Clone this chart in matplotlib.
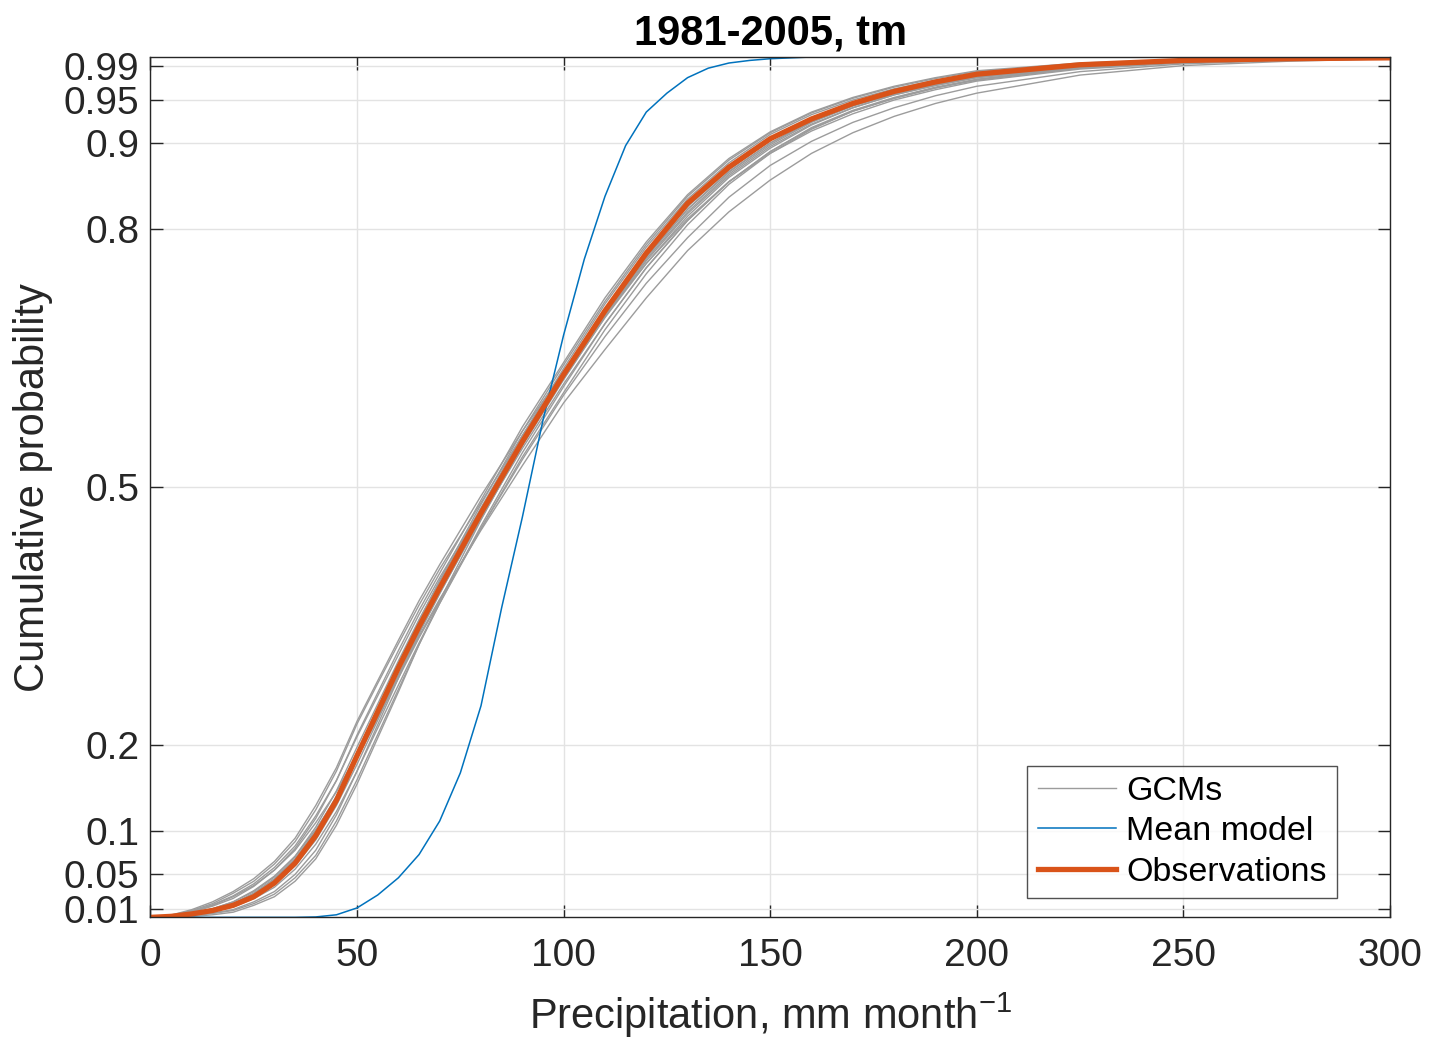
import numpy as np
import matplotlib
matplotlib.use('Agg')
import matplotlib.pyplot as plt

plt.rcParams['font.family'] = ['Liberation Sans', 'DejaVu Sans']
plt.rcParams['mathtext.default'] = 'regular'

# precipitation grid (mm/month) for GCMs and observations
precip = [0, 5, 10, 15, 20, 25, 30, 35, 40, 45, 50, 55, 60, 65, 70, 80, 90, 100,
          110, 120, 130, 140, 150, 160, 170, 180, 190, 200, 225, 250, 275, 300]

obs_cdf = [0.0, .0012, .004, .008, .014, .024, .040, .063, .095, .136, .188, .239, .290,
           .338, .383, .470, .553, .631, .705, .772, .830, .872, .905, .928, .946, .960,
           .971, .980, .991, .996, .998, .999]

gcm_cdfs = [
    [0, .002, .008, .016, .028, .042, .062, .088, .125, .170, .225, .272, .318, .363, .405, .482, .560, .632, .703, .770, .826, .869, .903, .928, .946, .960, .970, .978, .990, .995, .998, .999],
    [0, .002, .007, .014, .024, .037, .055, .080, .115, .159, .212, .261, .310, .357, .400, .485, .570, .645, .720, .785, .840, .882, .913, .936, .953, .966, .976, .984, .993, .997, .999, 1.0],
    [0, .0015, .005, .010, .018, .030, .047, .071, .105, .147, .198, .248, .298, .346, .390, .476, .560, .638, .713, .779, .835, .877, .910, .933, .950, .963, .973, .981, .992, .996, .998, .999],
    [0, .001, .004, .009, .015, .026, .042, .066, .098, .139, .190, .240, .290, .338, .382, .465, .545, .620, .690, .755, .810, .855, .890, .918, .938, .953, .965, .974, .987, .994, .997, .999],
    [0, .0006, .002, .005, .009, .018, .030, .050, .078, .119, .170, .224, .278, .331, .380, .470, .555, .630, .703, .768, .823, .866, .900, .925, .944, .958, .969, .977, .989, .995, .998, .999],
    [0, .0006, .002, .0045, .008, .016, .027, .046, .072, .112, .160, .2125, .265, .317, .365, .455, .540, .617, .690, .755, .810, .855, .890, .917, .937, .952, .964, .973, .987, .994, .997, .999],
    [0, .0018, .006, .013, .022, .036, .055, .078, .110, .146, .190, .235, .280, .327, .370, .450, .525, .598, .660, .720, .775, .820, .857, .888, .912, .931, .946, .958, .979, .990, .995, .998],
    [0, .0015, .005, .010, .018, .031, .048, .071, .102, .139, .185, .2315, .278, .325, .368, .452, .532, .607, .675, .737, .790, .837, .874, .902, .924, .941, .955, .966, .983, .992, .996, .998],
    [0, .0012, .004, .009, .016, .028, .045, .068, .100, .138, .185, .2335, .282, .331, .377, .463, .548, .625, .698, .763, .818, .862, .896, .922, .941, .956, .967, .976, .988, .995, .998, .999],
    [0, .0027, .009, .018, .030, .045, .065, .092, .130, .174, .228, .275, .322, .368, .410, .490, .565, .635, .700, .760, .812, .855, .888, .914, .934, .950, .962, .972, .986, .993, .997, .999],
    [0, .0003, .001, .003, .006, .014, .024, .042, .068, .107, .155, .2085, .262, .317, .368, .462, .550, .628, .700, .765, .820, .864, .898, .924, .943, .957, .968, .977, .989, .995, .998, .999],
    [0, .0009, .003, .007, .013, .0235, .038, .060, .090, .130, .178, .229, .280, .330, .376, .466, .550, .628, .700, .767, .823, .867, .900, .926, .945, .959, .970, .978, .990, .995, .998, .999],
    [0, .0009, .003, .0068, .012, .0217, .035, .056, .085, .123, .170, .220, .270, .319, .365, .452, .535, .610, .683, .748, .805, .852, .888, .916, .937, .952, .964, .974, .988, .994, .997, .999],
    [0, .002, .007, .0146, .025, .039, .058, .083, .118, .159, .210, .2575, .305, .352, .395, .475, .553, .626, .697, .760, .815, .860, .894, .921, .941, .956, .967, .976, .988, .994, .997, .999],
    [0, .0012, .004, .009, .016, .028, .044, .068, .100, .141, .192, .2435, .295, .345, .392, .480, .565, .642, .716, .782, .838, .880, .912, .935, .952, .965, .975, .983, .992, .996, .998, .999],
]

# mean model on its own grid
mean_precip = [0, 5, 10, 15, 20, 25, 30, 35, 40, 45, 50, 55, 60, 65, 70, 75, 80, 85, 90,
               95, 100, 105, 110, 115, 120, 125, 130, 135, 140, 145, 150, 155, 160,
               170, 200, 250, 300]
mean_cdf = [0, 0, 0, 0, 0, 0, 0, 0, 0.0005, 0.003, 0.011, 0.026, 0.046, 0.073, 0.112,
            0.168, 0.246, 0.36, 0.465, 0.578, 0.677, 0.765, 0.838, 0.897, 0.936, 0.958,
            0.976, 0.987, 0.993, 0.996, 0.998, 0.999, 1.0, 1.0, 1.0, 1.0, 1.0]

yticks = [0.01, 0.05, 0.1, 0.2, 0.5, 0.8, 0.9, 0.95, 0.99]
yticklabels = ['0.01', '0.05', '0.1', '0.2', '0.5', '0.8', '0.9', '0.95', '0.99']
xticks = [0, 50, 100, 150, 200, 250, 300]

fig = plt.figure(figsize=(14.29, 10.42), dpi=100)
ax = fig.add_axes([0.1053, 0.1196, 0.8674, 0.8257])

for i, g in enumerate(gcm_cdfs):
    ax.plot(precip, g, color='#9c9c9c', lw=1.0, label='GCMs' if i == 0 else None)
ax.plot(mean_precip, mean_cdf, color='#0072BD', lw=1.1, label='Mean model')
ax.plot(precip, obs_cdf, color='#D95319', lw=3.8, label='Observations')

ax.set_xlim(0, 300)
ax.set_ylim(0, 1)
ax.set_xticks(xticks)
ax.set_yticks(yticks)
ax.set_yticklabels(yticklabels)
ax.tick_params(direction='in', length=9, width=1, top=True, right=True,
               labelsize=28, colors='#262626')
ax.tick_params(axis='x', pad=15)
ax.tick_params(axis='y', pad=8)
ax.grid(True, color='#e3e3e3', lw=1)
ax.set_axisbelow(True)
for s in ax.spines.values():
    s.set_color('#262626')
    s.set_linewidth(1.0)

ax.set_title('1981-2005, tm', fontsize=30, fontweight='bold', pad=9)
ax.set_xlabel('Precipitation, mm month$^{-1}$', fontsize=30, color='#262626', labelpad=12)
ax.set_ylabel('Cumulative probability', fontsize=30, color='#262626', labelpad=8)

leg = ax.legend(loc='lower right', bbox_to_anchor=(0.957, 0.0225), borderaxespad=0,
                fontsize=24.5, frameon=True, fancybox=False, handlelength=2.3,
                labelspacing=0.28, borderpad=0.3, handletextpad=0.3)
leg.get_frame().set_edgecolor('#262626')
leg.get_frame().set_linewidth(1.0)

fig.savefig('out.png', dpi=100)
